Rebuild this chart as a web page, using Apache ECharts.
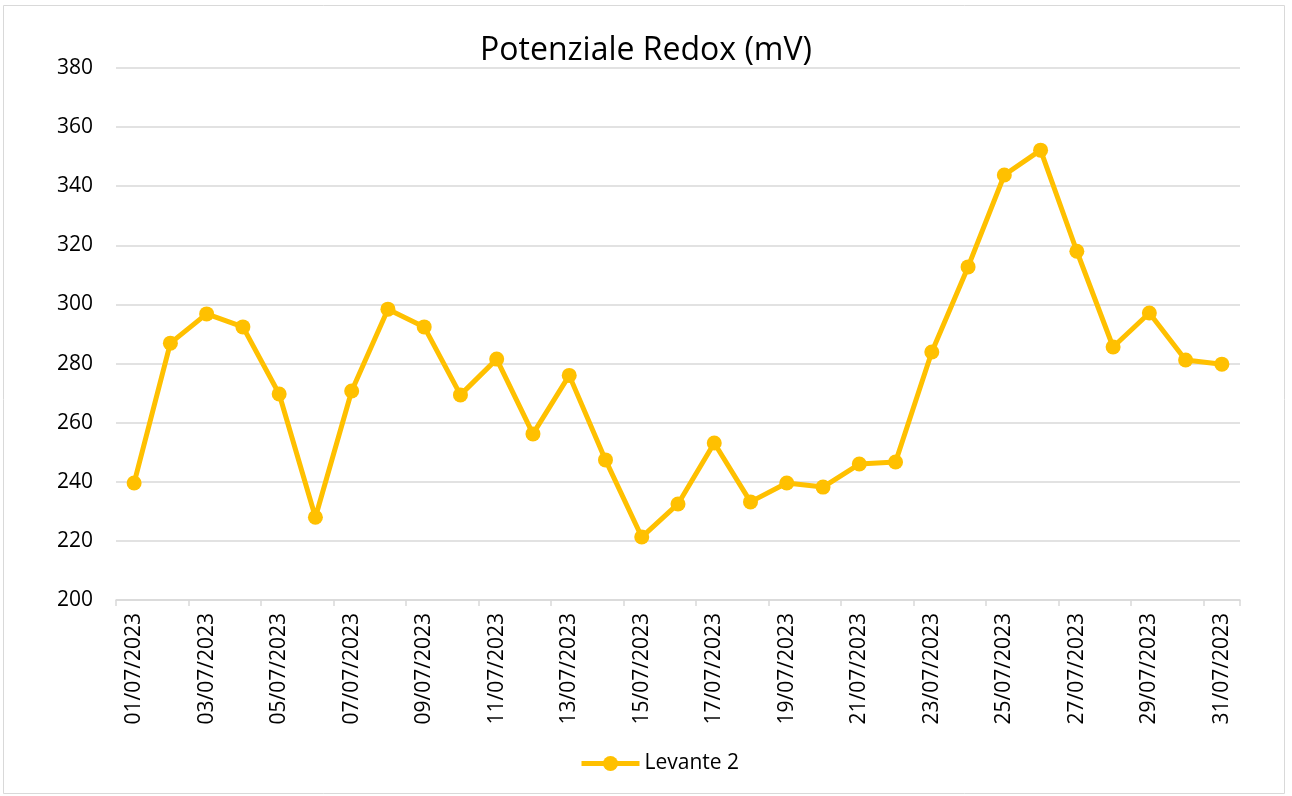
<!DOCTYPE html>
<html>
<head>
<meta charset="utf-8">
<script src="https://cdn.jsdelivr.net/npm/echarts@6/dist/echarts.min.js"></script>
<style>
  html, body { margin: 0; padding: 0; background: #fff; }
  #chart { width: 1292px; height: 796px; }
</style>
</head>
<body>
<div id="chart"></div>
<script>
const days = [
  "01/07/2023", "02/07/2023", "03/07/2023", "04/07/2023", "05/07/2023", "06/07/2023",
  "07/07/2023", "08/07/2023", "09/07/2023", "10/07/2023", "11/07/2023", "12/07/2023",
  "13/07/2023", "14/07/2023", "15/07/2023", "16/07/2023", "17/07/2023", "18/07/2023",
  "19/07/2023", "20/07/2023", "21/07/2023", "22/07/2023", "23/07/2023", "24/07/2023",
  "25/07/2023", "26/07/2023", "27/07/2023", "28/07/2023", "29/07/2023", "30/07/2023",
  "31/07/2023"
];
const levante2 = [
  239.6, 286.9, 296.8, 292.4, 269.7, 228.0, 270.7, 298.4, 292.4, 269.4, 281.5,
  256.2, 276.0, 247.4, 221.3, 232.5, 253.1, 233.2, 239.6, 238.2, 246.0, 246.7,
  283.9, 312.7, 343.8, 352.2, 318.0, 285.6, 297.1, 281.2, 279.8
];
const seriesName = "Levante 2";
const chartTitle = "Potenziale Redox (mV)";

const font = "'Open Sans', 'Noto Sans', sans-serif";
const chart = echarts.init(document.getElementById("chart"));
chart.setOption({
  animation: false,
  textStyle: { fontFamily: font },
  title: {
    text: chartTitle,
    left: "center",
    top: 30,
    textStyle: { fontFamily: font, fontSize: 32, fontWeight: "normal", color: "#000" }
  },
  graphic: [{
    type: "rect",
    shape: { x: 3.5, y: 5.5, width: 1281, height: 788 },
    style: { fill: "none", stroke: "#d9d9d9", lineWidth: 1 },
    silent: true
  }],
  legend: {
    data: [seriesName],
    bottom: 17,
    left: 574,
    itemWidth: 58,
    itemHeight: 19,
    itemGap: 10,
    lineStyle: { width: 5 },
    textStyle: { fontFamily: font, fontSize: 21, color: "#000" }
  },
  grid: { left: 116, right: 52, top: 68, bottom: 196 },
  xAxis: {
    type: "category",
    data: days,
    boundaryGap: true,
    axisLine: { lineStyle: { color: "#d9d9d9", width: 1.5 } },
    axisTick: { show: true, interval: 1, length: 6, lineStyle: { color: "#d9d9d9", width: 1.5 } },
    axisLabel: {
      interval: 1,
      rotate: 90,
      margin: 13,
      fontFamily: font,
      fontSize: 21,
      color: "#000"
    }
  },
  yAxis: {
    type: "value",
    min: 200,
    max: 380,
    interval: 20,
    axisLine: { show: false },
    axisTick: { show: false },
    axisLabel: { fontFamily: font, fontSize: 21, color: "#000", margin: 23 },
    splitLine: { lineStyle: { color: "#d9d9d9", width: 1.5 } }
  },
  series: [{
    name: seriesName,
    type: "line",
    data: levante2,
    symbol: "circle",
    symbolSize: 15,
    lineStyle: { color: "#ffc000", width: 5 },
    itemStyle: { color: "#ffc000" }
  }]
});
</script>
</body>
</html>
